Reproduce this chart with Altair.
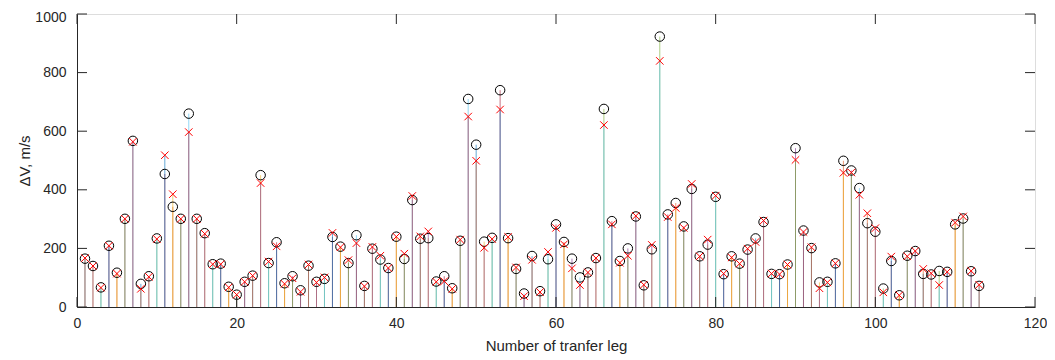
import altair as alt
import pandas as pd

# Measured values (circle markers) and x-marker values per transfer leg
dv_circle = [165, 140, 67, 209, 117, 301, 567, 79, 105, 234,
             454, 342, 301, 660, 301, 252, 146, 148, 69, 42,
             86, 107, 450, 150, 221, 81, 105, 57, 141, 86,
             96, 239, 206, 150, 245, 72, 199, 162, 133, 240,
             164, 365, 233, 235, 87, 105, 64, 226, 710, 554,
             223, 236, 740, 235, 130, 46, 174, 54, 163, 282,
             222, 165, 101, 118, 167, 676, 293, 157, 200, 309,
             74, 197, 923, 316, 355, 275, 403, 173, 213, 376,
             112, 173, 148, 196, 234, 290, 113, 112, 145, 542,
             261, 201, 84, 86, 149, 499, 466, 406, 286, 257,
             63, 157, 40, 175, 191, 113, 111, 123, 120, 282,
             302, 122, 72]
dv_cross = [167, 140, 66, 209, 114, 301, 564, 62, 103, 232,
            518, 385, 301, 597, 301, 250, 146, 146, 67, 42,
            86, 107, 423, 155, 207, 79, 98, 52, 145, 84,
            101, 253, 204, 160, 218, 71, 205, 175, 133, 240,
            182, 379, 241, 258, 86, 88, 62, 230, 650, 499,
            202, 232, 674, 239, 135, 37, 161, 51, 188, 270,
            214, 132, 75, 118, 167, 621, 282, 151, 175, 311,
            76, 212, 840, 307, 338, 270, 420, 173, 230, 380,
            114, 169, 148, 199, 222, 295, 114, 112, 145, 502,
            256, 204, 64, 84, 149, 458, 459, 383, 320, 269,
            50, 172, 40, 173, 191, 130, 115, 75, 120, 288,
            309, 123, 76]
legs = list(range(1, len(dv_circle) + 1))

x_ticks = [0, 20, 40, 60, 80, 100, 120]
y_ticks = [0, 200, 400, 600, 800, 1000]

matlab_colors = ["#0072BD", "#D95319", "#EDB120", "#7E2F8E",
                 "#77AC30", "#4DBEEE", "#A2142F"]

df = pd.DataFrame({
    "leg": legs,
    "circle": dv_circle,
    "cross": dv_cross,
    "c_circle": [matlab_colors[(2 * i - 2) % 7] for i in legs],
    "c_cross": [matlab_colors[(2 * i - 1) % 7] for i in legs],
})

W, H = 958, 293
TXT = "#262626"
FONT = "Liberation Sans"

xs = alt.Scale(domain=[0, 120], nice=False)
ys = alt.Scale(domain=[0, 1000], nice=False)

base = alt.Chart(df)

stem_circle = base.mark_rule(strokeWidth=1, opacity=0.6).encode(
    x=alt.X("leg:Q", scale=xs,
            axis=alt.Axis(values=x_ticks, title="Number of tranfer leg",
                          ticks=False, labelPadding=9, titlePadding=8,
                          labelFlush=False, format="d",
                          grid=False, domainColor=TXT, labelColor=TXT,
                          titleColor=TXT, labelFontSize=14, titleFontSize=15,
                          titleFontWeight="normal", labelFont=FONT, titleFont=FONT)),
    y=alt.Y("circle:Q", scale=ys,
            axis=alt.Axis(values=y_ticks, title="ΔV, m/s", ticks=False,
                          labelPadding=11, grid=False, domainColor=TXT,
                          labelFlush=False, format="d",
                          labelOffset={"condition": {"test": "datum.value == 1000", "value": 3},
                                       "value": 0},
                          labelColor=TXT, titleColor=TXT, labelFontSize=14,
                          titleFontSize=15, titleFontWeight="normal",
                          labelFont=FONT, titleFont=FONT, titleX=-45)),
    y2=alt.datum(0),
    color=alt.Color("c_circle:N", scale=None),
)

stem_cross = base.mark_rule(strokeWidth=1, opacity=0.6).encode(
    x=alt.X("leg:Q", scale=xs),
    y=alt.Y("cross:Q", scale=ys),
    y2=alt.datum(0),
    color=alt.Color("c_cross:N", scale=None),
)

circles = base.mark_point(shape="circle", size=90, filled=False,
                          stroke="#000000", strokeWidth=1, opacity=1).encode(
    x=alt.X("leg:Q", scale=xs),
    y=alt.Y("circle:Q", scale=ys),
)

crosses = base.mark_point(shape="M-1,-1L1,1M1,-1L-1,1", size=56, filled=False,
                          stroke="#FF0000", strokeWidth=1, opacity=1).encode(
    x=alt.X("leg:Q", scale=xs),
    y=alt.Y("cross:Q", scale=ys),
)

xt = pd.DataFrame({"v": x_ticks})
yt = pd.DataFrame({"v": y_ticks})
tick_bottom = alt.Chart(xt).mark_rule(color=TXT, strokeWidth=1).encode(
    x=alt.X("v:Q", scale=xs), y=alt.value(H), y2=alt.value(H - 10))
tick_top = alt.Chart(xt).mark_rule(color=TXT, strokeWidth=1).encode(
    x=alt.X("v:Q", scale=xs), y=alt.value(0), y2=alt.value(10))
tick_left = alt.Chart(yt).mark_rule(color=TXT, strokeWidth=1).encode(
    y=alt.Y("v:Q", scale=ys), x=alt.value(0), x2=alt.value(10))
tick_right = alt.Chart(yt).mark_rule(color=TXT, strokeWidth=1).encode(
    y=alt.Y("v:Q", scale=ys), x=alt.value(W), x2=alt.value(W - 10))

chart = alt.layer(
    stem_circle, stem_cross, circles, crosses,
    tick_bottom, tick_top, tick_left, tick_right,
).properties(
    width=W, height=H,
    autosize=alt.AutoSizeParams(type="none"),
    padding={"left": 69, "top": 6, "right": 12, "bottom": 53},
).configure_view(
    stroke=TXT, strokeWidth=1,
).configure(background="white")

chart.save("out.html", embed_options={"renderer": "svg", "actions": False})
